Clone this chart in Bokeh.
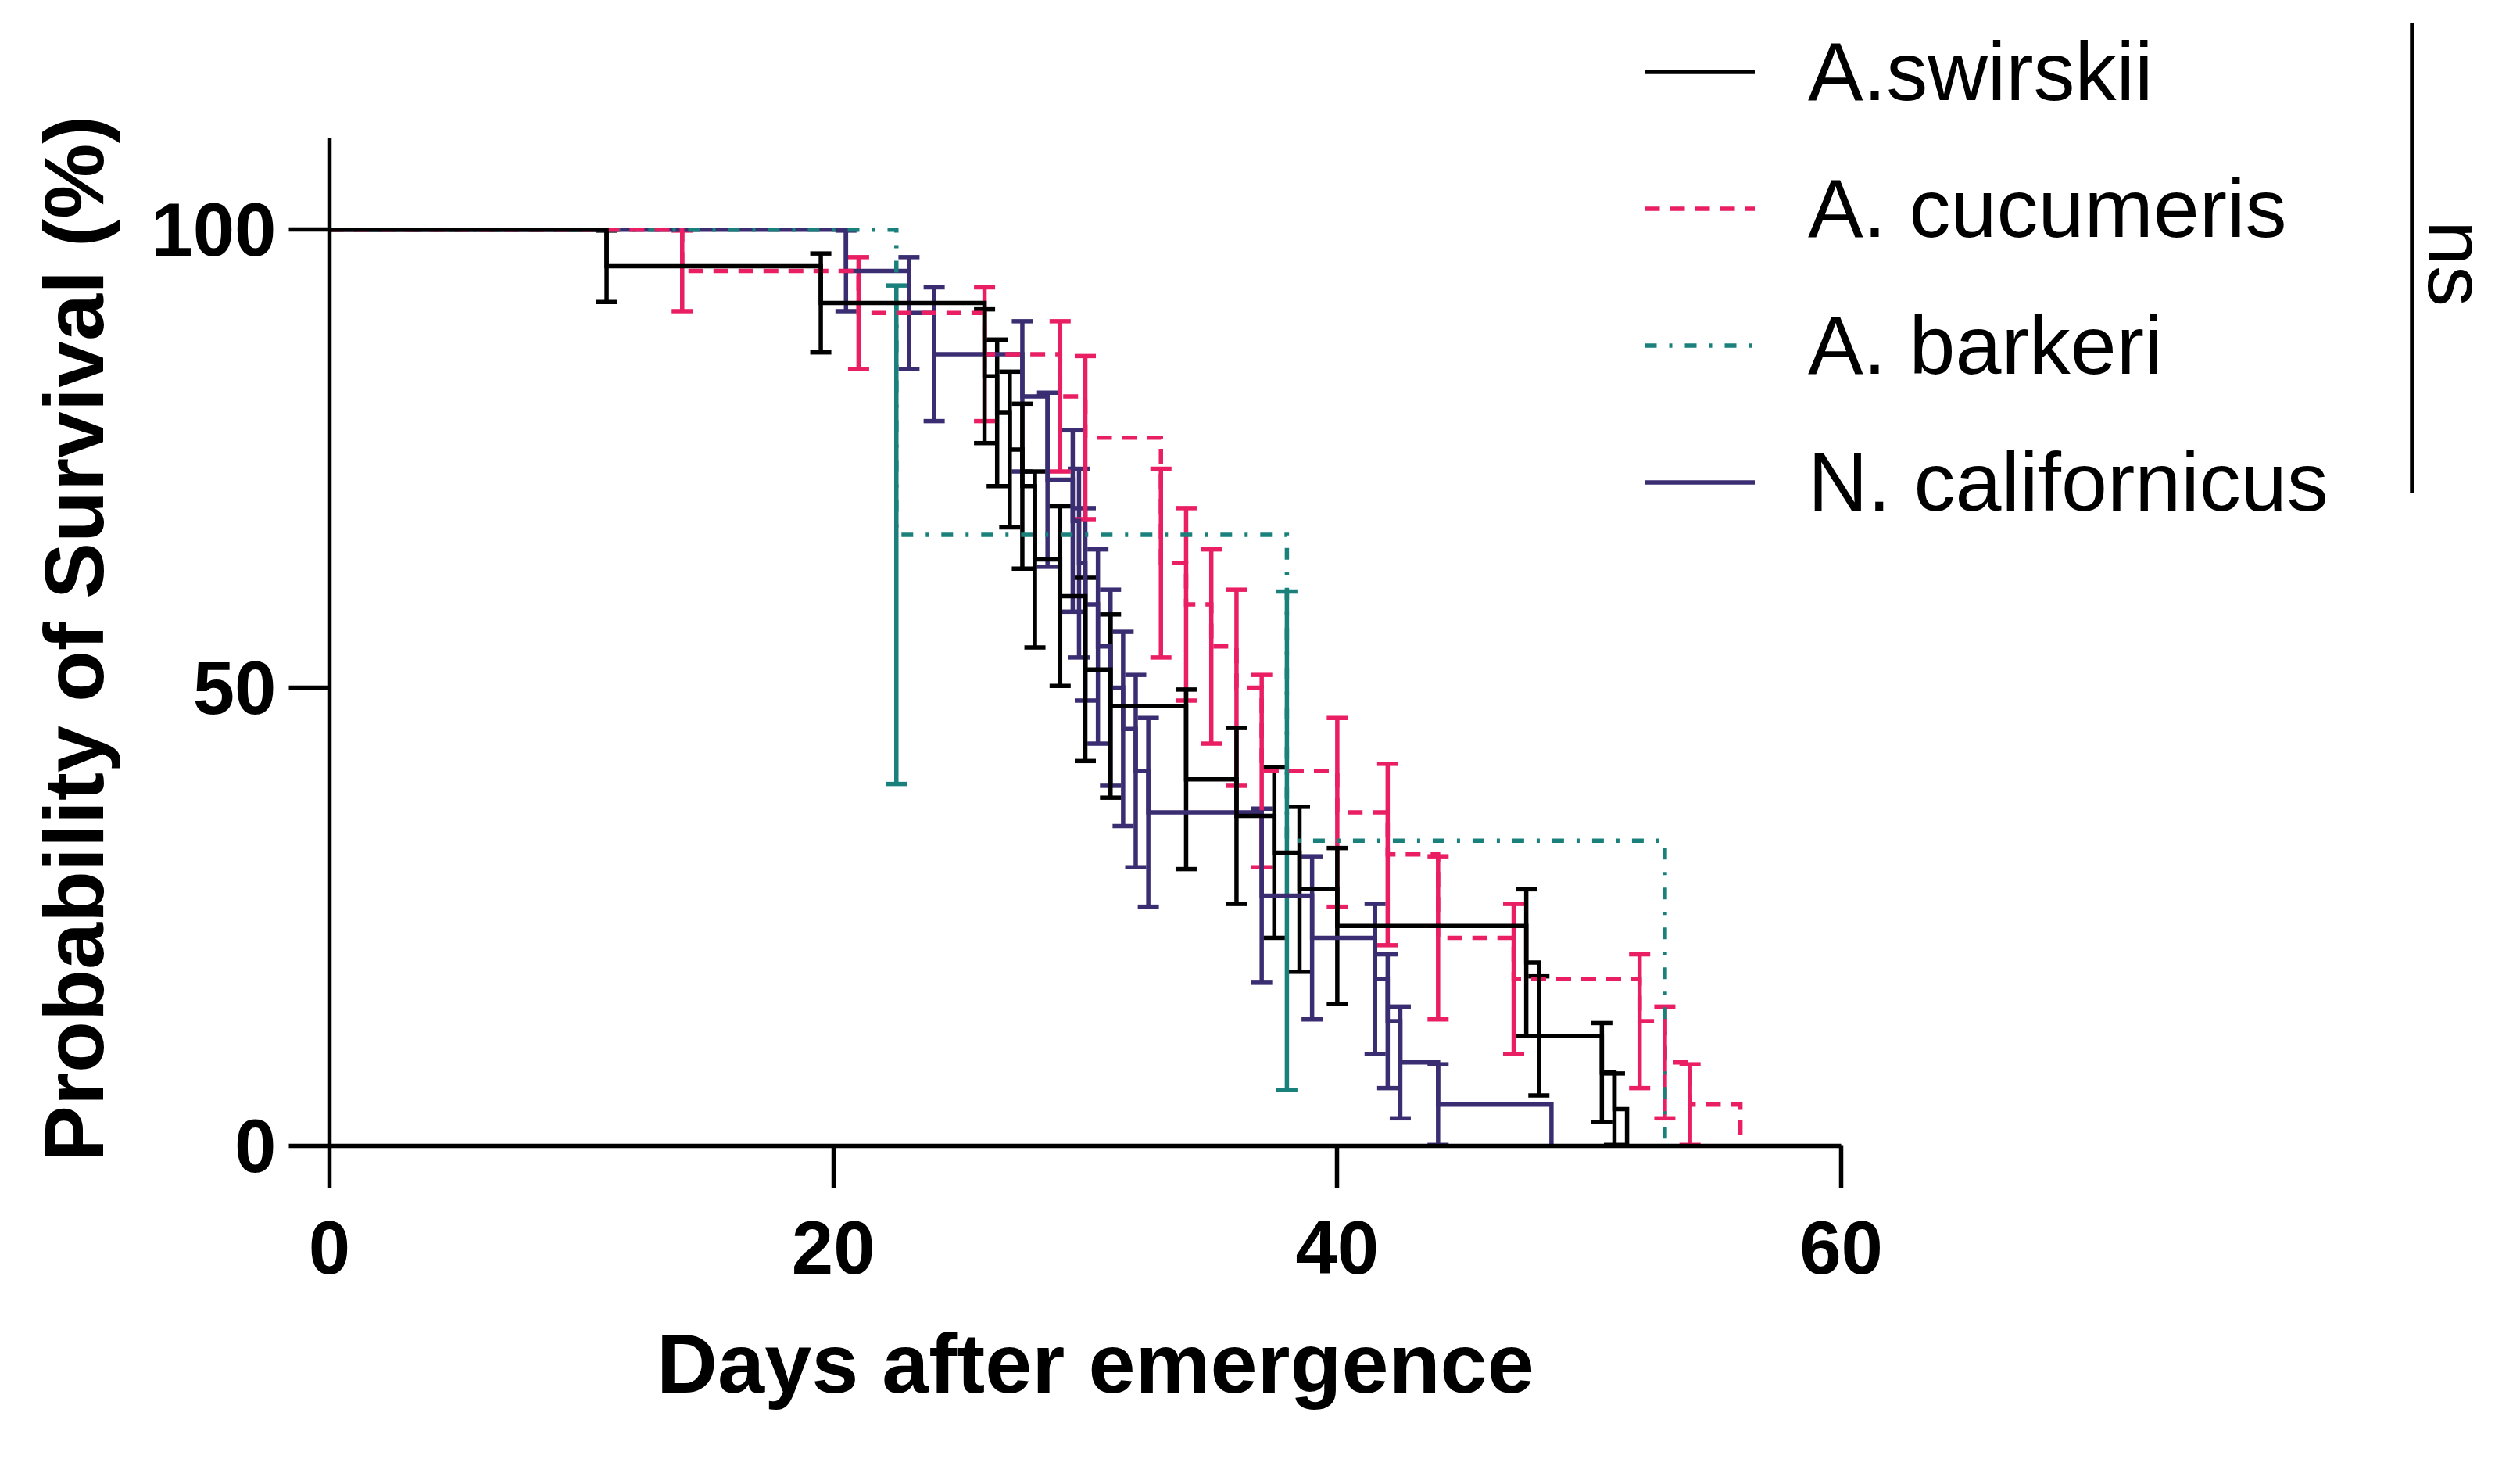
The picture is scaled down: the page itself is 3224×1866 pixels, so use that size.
from math import pi

from bokeh.embed import file_html
from bokeh.models import (Arrow, ColumnDataSource, Label, Legend, LegendItem,
                          TeeHead, Whisker)
from bokeh.plotting import figure
from bokeh.resources import INLINE

# Kaplan-Meier curves:
# day of each drop, survival (%) after the drop, SE (%) shown as error bar
swirskii_days = [11, 19.5, 26, 26.5, 27, 27.5, 28, 29, 30, 31, 34, 36, 37.5, 38.5, 40, 47.5, 48, 50.5, 51, 51.5]
swirskii_surv = [96, 92, 84, 80, 76, 72, 64, 60, 52, 48, 40, 36, 32, 28, 24, 20, 12, 8, 4, 0]
swirskii_se = [3.9, 5.4, 7.3, 8.0, 8.5, 9.0, 9.6, 9.8, 10.0, 10.0, 9.8, 9.6, 9.3, 9.0, 8.5, 8.0, 6.5, 5.4, 3.9, 0]

cucumeris_days = [14, 21, 26, 29, 30, 33, 34, 35, 36, 37, 40, 42, 44, 47, 52, 53, 54, 56]
cucumeris_surv = [95.5, 90.9, 86.4, 81.8, 77.3, 63.6, 59.1, 54.5, 50.0, 40.9, 36.4, 31.8, 22.7, 18.2, 13.6, 9.1, 4.5, 0]
cucumeris_se = [4.4, 6.1, 7.3, 8.2, 8.9, 10.3, 10.5, 10.6, 10.7, 10.5, 10.3, 9.9, 8.9, 8.2, 7.3, 6.1, 4.4, 0]

barkeri_days = [22.5, 38, 53]
barkeri_surv = [66.7, 33.3, 0]
barkeri_se = [27.2, 27.2, 0]

californicus_days = [20.5, 23, 24, 27.5, 28.5, 29.5, 29.75, 30, 30.5, 31, 31.5, 32, 32.5, 37, 39, 41.5, 42, 42.5, 44, 48.5]
californicus_surv = [95.5, 90.9, 86.4, 81.8, 72.7, 68.2, 63.6, 59.1, 54.5, 50.0, 45.5, 40.9, 36.4, 27.3, 22.7, 18.2, 13.6, 9.1, 4.5, 0]
californicus_se = [4.4, 6.1, 7.3, 8.2, 9.5, 9.9, 10.3, 10.5, 10.6, 10.7, 10.6, 10.5, 10.3, 9.5, 8.9, 8.2, 7.3, 6.1, 4.4, 0]

x_ticks = [0, 20, 40, 60]
y_ticks = [0, 50, 100]

FONT = "Liberation Sans"
LW = 5.5


def steps(days, surv):
    xs, ys = [0], [100]
    prev = 100
    for d, s in zip(days, surv):
        xs += [d, d]
        ys += [prev, s]
        prev = s
    return xs, ys


# the frame fills the whole canvas; the axes sit at x=0 / y=0 inside it,
# so legend, titles and the "ns" mark all live in data space and are never clipped
p = figure(frame_width=3208, frame_height=1850, x_range=(-13.06, 86.46), y_range=(-32.86, 125.02),
           min_border=0, output_backend="svg", toolbar_location=None)
p.grid.visible = False
p.outline_line_color = None

p.xaxis.ticker = x_ticks
p.yaxis.ticker = y_ticks
p.xaxis.bounds = (0, 60)
p.yaxis.bounds = (0, 110)
p.xaxis.fixed_location = 0
p.yaxis.fixed_location = 0
for ax in (p.xaxis, p.yaxis):
    ax.axis_line_width = LW
    ax.major_tick_line_width = LW
    ax.major_tick_in = 0
    ax.minor_tick_line_color = None
    ax.major_label_text_font = FONT
    ax.major_label_text_font_style = "bold"
    ax.major_label_text_font_size = "96px"
    ax.major_label_text_color = "black"
p.xaxis.major_tick_out = 54
p.yaxis.major_tick_out = 52
p.xaxis.major_label_standoff = 43
p.yaxis.major_label_standoff = 16

p.add_layout(Label(x=30.4, y=-23.7, text="Days after emergence", text_align="center",
                   text_baseline="alphabetic", text_font=FONT, text_font_style="bold",
                   text_font_size="108px", text_color="black"))
p.add_layout(Label(x=-10.14, y=55.34, text="Probability of Survival (%)", angle=pi / 2,
                   text_align="center", text_baseline="alphabetic", text_font=FONT,
                   text_font_style="bold", text_font_size="108px", text_color="black"))

groups = [
    # drawn bottom to top
    ("N. californicus", californicus_days, californicus_surv, californicus_se, "#3A2D71", "solid"),
    ("A. barkeri", barkeri_days, barkeri_surv, barkeri_se, "#1A807B", "15 16 4 16"),
    ("A. cucumeris", cucumeris_days, cucumeris_surv, cucumeris_se, "#E91E63", "19 13"),
    ("A.swirskii", swirskii_days, swirskii_surv, swirskii_se, "black", "solid"),
]

renderers = {}
for name, days, surv, se, color, dash in groups:
    xs, ys = steps(days, surv)
    r = p.line(xs, ys, line_color=color, line_width=LW, line_dash=dash, line_join="miter")
    renderers[name] = r
    keep = [i for i, e in enumerate(se) if e > 0]
    src = ColumnDataSource(dict(
        t=[days[i] for i in keep],
        lo=[max(surv[i] - se[i], 0) for i in keep],
        hi=[min(surv[i] + se[i], 100) for i in keep],
    ))
    p.add_layout(Whisker(source=src, base="t", lower="lo", upper="hi", dimension="height",
                         line_color=color, line_width=LW,
                         lower_head=TeeHead(size=27, line_color=color, line_width=LW),
                         upper_head=TeeHead(size=27, line_color=color, line_width=LW)))

order = ["A.swirskii", "A. cucumeris", "A. barkeri", "N. californicus"]
legend = Legend(items=[LegendItem(label=n, renderers=[renderers[n]]) for n in order],
                location=(2104, 1146), orientation="vertical",
                glyph_width=141, glyph_height=175, label_height=175, label_standoff=68,
                spacing=0, padding=0, margin=0, border_line_color=None,
                background_fill_alpha=0, label_text_font=FONT,
                label_text_font_size="106px", label_text_color="black")
p.add_layout(legend)

# significance bracket to the right of the legend
p.add_layout(Arrow(end=None, x_start=82.66, y_start=122.5, x_end=82.66, y_end=71.3,
                   line_color="black", line_width=LW))
p.add_layout(Label(x=84.42, y=96.3, text="ns", angle=-pi / 2, text_align="center",
                   text_baseline="middle", text_font=FONT, text_font_size="104px",
                   text_color="black"))

open("out.html", "w").write(file_html(p, INLINE))
